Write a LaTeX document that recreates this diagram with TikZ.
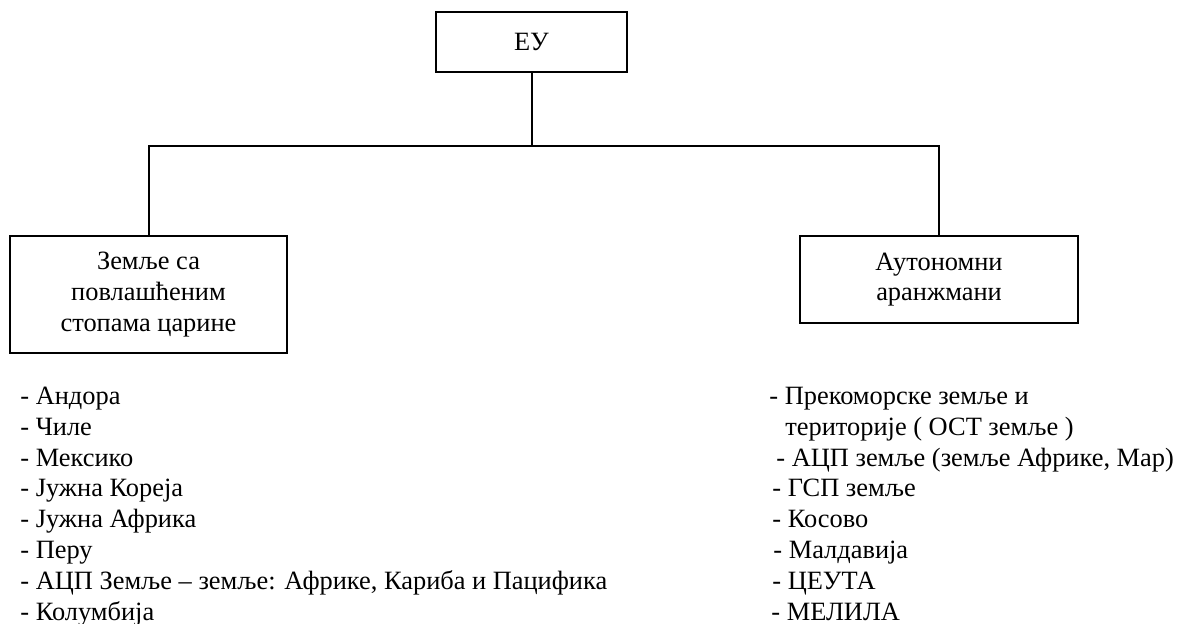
\documentclass[tikz,border=0pt]{standalone}
\usepackage{fontspec}
\setmainfont{Liberation Serif}
\begin{document}
\begin{tikzpicture}[x=0.5pt,y=-0.5pt,
  box/.style={draw,line width=1pt,inner sep=0pt,align=center,font=\fontsize{13.2}{15.4}\selectfont},
  item/.style={anchor=base west,inner sep=0pt,font=\fontsize{13.2}{15.4}\selectfont},
  conn/.style={line width=1pt}]
\useasboundingbox (0,0) rectangle (1181,623);
\node[box,minimum width=95.5pt,minimum height=30pt] (eu) at (531.5,42) {ЕУ};
\node[box,minimum width=138.5pt,minimum height=58.5pt] (left) at (148.5,294.5) {Земље са\\повлашћеним\\стопама царине};
\node[box,minimum width=139pt,minimum height=43.5pt] (right) at (939,279.5) {Аутономни\\аранжмани};
\coordinate (bus) at (531.5,145.7);
\draw[conn] (eu.south) -- (bus);
\draw[conn] (left.north) |- (bus) -| (right.north);
% left list
\node[item] (l1) at (20,404.5) {- Андора};
\node[item] (l2) at (20,435.3) {- Чиле};
\node[item] (l3) at (20,466.1) {- Мексико};
\node[item] (l4) at (20,496.9) {- Јужна Кореја};
\node[item] (l5) at (20,527.7) {- Јужна Африка};
\node[item] (l6) at (20,558.5) {- Перу};
\node[item] (l7) at (20,589.3) {- АЦП Земље – земље: Африке, Кариба и Пацифика};
\node[item] (l8) at (20,620.1) {- Колумбија};
% right list
\node[item] (r1) at (769,404.5) {- Прекоморске земље и};
\node[item] (r2) at (785,435.3) {територије ( ОСТ земље )};
\node[item] (r3) at (776,466.1) {- АЦП земље (земље Африке, Мар)};
\node[item] (r4) at (772,496.9) {- ГСП земље};
\node[item] (r5) at (772,527.7) {- Косово};
\node[item] (r6) at (773,558.5) {- Малдавија};
\node[item] (r7) at (772,589.3) {- ЦЕУТА};
\node[item] (r8) at (771,620.1) {- МЕЛИЛА};
\end{tikzpicture}
\end{document}
